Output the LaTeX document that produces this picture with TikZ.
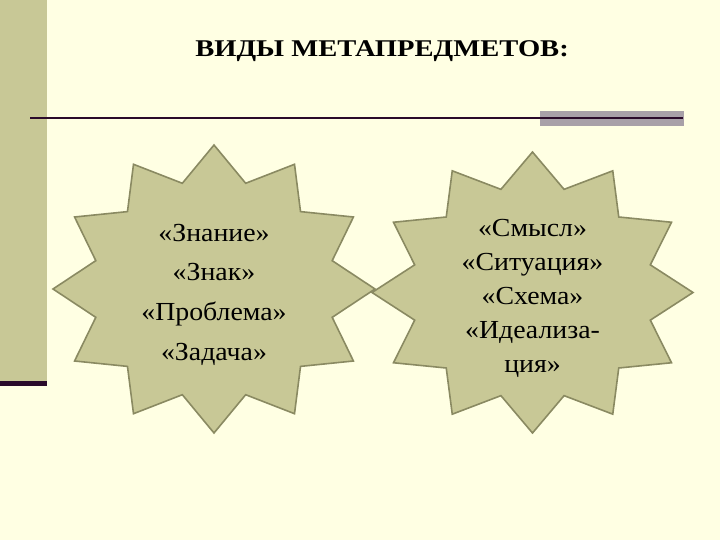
\documentclass[tikz,border=0pt]{standalone}
\usepackage{fontspec}
\setmainfont{Liberation Serif}
\definecolor{bgc}{HTML}{FFFFE3}
\definecolor{barc}{HTML}{C8C896}
\definecolor{starfill}{HTML}{C8C896}
\definecolor{staredge}{HTML}{8A8A62}
\definecolor{darkline}{HTML}{2A0A2A}
\definecolor{grayband}{HTML}{A8A0A8}
\newcommand\sxline[1]{\scalebox{1.07}[1]{#1}}
\tikzset{
  starshape/.style={fill=starfill, draw=staredge, line width=1.6pt, line join=miter},
  startext/.style={align=center, font=\fontsize{26}{39.7}\selectfont, text=black, inner sep=0pt},
  startextb/.style={align=center, font=\fontsize{26}{34}\selectfont, text=black, inner sep=0pt},
  titletext/.style={font=\fontsize{24}{27}\selectfont\bfseries, text=black, inner sep=0pt, anchor=base}
}
\begin{document}
\begin{tikzpicture}[x=1pt,y=-1pt]
\useasboundingbox (0,0) rectangle (720,540);
\fill[bgc] (0,0) rectangle (720,540);
% left bar
\fill[barc] (0,0) rectangle (47,381);
\fill[darkline] (0,381) rectangle (47,386);
% title
\node[titletext] (title) at (382,57) {\scalebox{1.19}[1]{ВИДЫ МЕТАПРЕДМЕТОВ:}};
% rule with gray band
\fill[grayband] (540,111) rectangle (684,126);
\coordinate (ruleL) at (30,118);
\coordinate (ruleR) at (683,118);
\draw[darkline, line width=2pt] (ruleL) -- (ruleR);
% stars
\draw[starshape] plot[samples at={0,...,23}, variable=\k]
  ({214+161*(iseven(\k)?1:0.76)*cos(90+15*\k)}, {289+144*(iseven(\k)?1:0.76)*sin(90+15*\k)}) -- cycle;
\draw[starshape] plot[samples at={0,...,23}, variable=\k]
  ({532.5+160.5*(iseven(\k)?1:0.76)*cos(90+15*\k)}, {292.5+140.5*(iseven(\k)?1:0.76)*sin(90+15*\k)}) -- cycle;
\node[startext] (left) at (214,294.5) {\sxline{«Знание»}\\\sxline{«Знак»}\\\sxline{«Проблема»}\\\sxline{«Задача»}};
\node[startextb] (right) at (532.5,298) {\sxline{«Смысл»}\\\sxline{«Ситуация»}\\\sxline{«Схема»}\\\sxline{«Идеализа-}\\\sxline{ция»}};
\end{tikzpicture}
\end{document}
